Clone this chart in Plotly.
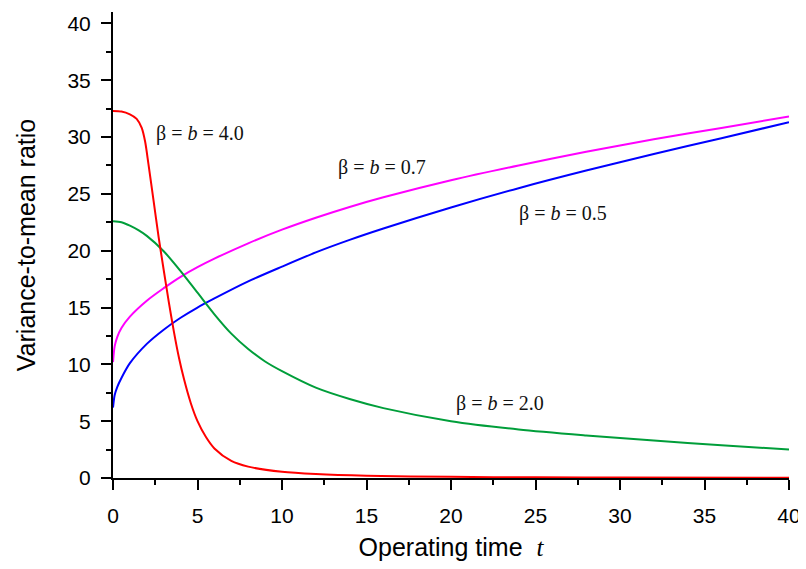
import plotly.graph_objects as go

# ---- data ----
red_t = [0, 0.5, 1.0, 1.4, 1.7, 1.9, 2.1, 2.4, 2.7, 3.0, 3.3, 3.6, 3.9, 4.2, 4.6, 5.0, 5.5, 6.0, 7.0, 8.0, 10, 12, 15, 20, 25, 30, 40]
red_v = [32.3, 32.25, 32.0, 31.6, 30.8, 29.6, 27.6, 24.4, 21.2, 18.3, 15.5, 12.9, 10.6, 8.7, 6.6, 5.0, 3.6, 2.6, 1.5, 1.0, 0.55, 0.35, 0.2, 0.1, 0.06, 0.04, 0.02]

green_t = [0, 0.5, 1, 1.5, 2, 3, 4, 5, 6, 7, 8, 9, 10, 12, 14, 16, 20, 24, 28, 32, 36, 40]
green_v = [22.6, 22.5, 22.2, 21.8, 21.3, 19.95, 18.2, 16.3, 14.4, 12.7, 11.35, 10.25, 9.4, 7.95, 6.95, 6.15, 5.0, 4.27, 3.75, 3.3, 2.88, 2.5]

blue_t = [0, 0.1, 0.25, 0.5, 1, 2, 3, 4, 5, 6, 8, 10, 12, 14, 16, 20, 24, 28, 32, 36, 40]
blue_v = [6.2, 7.3, 8.0, 8.8, 10.1, 11.8, 13.05, 14.1, 15.0, 15.8, 17.3, 18.6, 19.85, 20.95, 21.95, 23.8, 25.5, 27.05, 28.5, 29.9, 31.3]

mag_t = [0, 0.1, 0.25, 0.5, 1, 2, 3, 4, 5, 6, 8, 10, 12, 14, 16, 20, 24, 28, 32, 36, 40]
mag_v = [10.2, 11.6, 12.4, 13.2, 14.2, 15.6, 16.7, 17.7, 18.55, 19.3, 20.65, 21.85, 22.9, 23.85, 24.7, 26.2, 27.5, 28.7, 29.8, 30.8, 31.8]

labels = ["β = <i>b</i> = 4.0", "β = <i>b</i> = 0.7", "β = <i>b</i> = 0.5", "β = <i>b</i> = 2.0"]
label_t = [5.17, 15.93, 26.65, 22.9]
label_v = [30.3, 27.34, 23.24, 6.54]

x_ticks = [0, 5, 10, 15, 20, 25, 30, 35, 40]
y_ticks = [0, 5, 10, 15, 20, 25, 30, 35, 40]

fig = go.Figure()
for t, v, c in [(mag_t, mag_v, "#ff00ff"), (blue_t, blue_v, "#0000ff"),
                (green_t, green_v, "#009e3a"), (red_t, red_v, "#ff0000")]:
    fig.add_trace(go.Scatter(x=t, y=v, mode="lines",
                             line=dict(color=c, width=2, shape="spline", smoothing=0.8),
                             showlegend=False, hoverinfo="skip"))

for txt, t, v in zip(labels, label_t, label_v):
    fig.add_annotation(x=t, y=v, text=txt, showarrow=False, xref="x", yref="y",
                       font=dict(family="Liberation Serif", size=20, color="#111111"))

axis_common = dict(showgrid=False, zeroline=False, showline=True, linecolor="black", linewidth=2,
                   ticks="outside", ticklen=10, tickwidth=2, tickcolor="black", automargin=False,
                   ticklabeloverflow="allow",
                   tickfont=dict(family="Liberation Sans", size=21, color="black"),
                   minor=dict(ticks="outside", ticklen=5, tickwidth=2, tickcolor="black", dtick=2.5))

fig.update_xaxes(range=[0, 40], tickvals=x_ticks, ticktext=[str(v) for v in x_ticks],
                 title=dict(text="Operating time  <span style=\"font-family:'Liberation Serif'\"><i>t</i></span>",
                            font=dict(family="Liberation Sans", size=25, color="black"), standoff=15),
                 ticklabelstandoff=8, **axis_common)
fig.update_yaxes(range=[0, 41], tickvals=y_ticks, ticktext=[str(v) for v in y_ticks],
                 title=dict(text="Variance-to-mean ratio",
                            font=dict(family="Liberation Sans", size=25, color="black"), standoff=25),
                 ticklabelstandoff=6, **axis_common)

# page body has an 8px margin, so the figure is offset by 8px; compensate here
fig.update_layout(width=806, height=553, margin=dict(l=105, r=25, t=4, b=83),
                  plot_bgcolor="white", paper_bgcolor="white")

fig.write_html("out.html")
